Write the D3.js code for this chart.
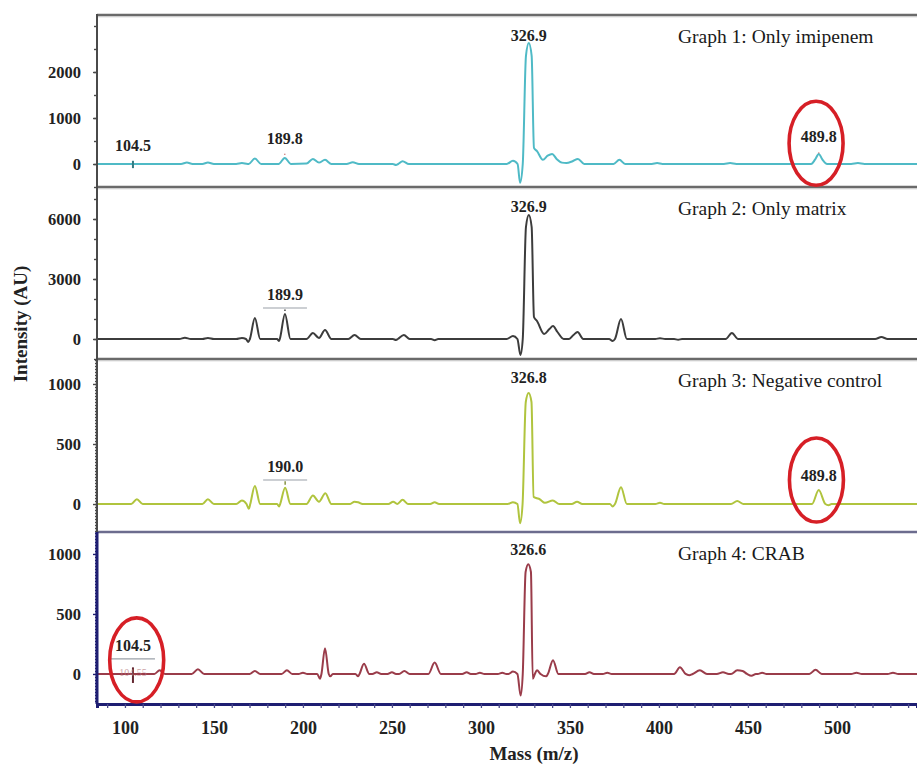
<!DOCTYPE html>
<html>
<head>
<meta charset="utf-8">
<script src="https://cdn.jsdelivr.net/npm/d3@7"></script>
<style>
body { margin: 0; background: #fff; }
svg { display: block; }
</style>
</head>
<body>
<div id="chart"></div>
<script>
var width = 917, height = 764;

// ---- data ----
var massTicks = [100, 150, 200, 250, 300, 350, 400, 450, 500];
var titles = ["Graph 1: Only imipenem", "Graph 2: Only matrix", "Graph 3: Negative control", "Graph 4: CRAB"];
var lineColors = ["#4fbac6", "#3c3c3c", "#b0c43e", "#9a3c4a"];

var yMajor = [[0, 1000, 2000], [0, 3000, 6000], [0, 500, 1000], [0, 500, 1000]];
var yMinorStep = [500, 1000, 25, 25];
var yDomains = [[-500, 3239], [-1000, 7600], [-233, 1208], [-242, 1183]];

// [m/z, intensity]
var imipenem = [[84,0],[131.5,0],[134.8,30],[138,0],[143.5,0],[146.6,30],[150,0],[162.5,0],[165.7,20],[169,0],
  [169.5,0],[173,120],[176.5,0],[186.3,0],[189.8,130],[193.3,0],[202,10],[205.6,110],[209,30],[212.4,90],
  [216,0],[224.5,0],[228,40],[231.5,0],[250.5,0],[252.3,-20],[253.5,0],[256,60],[259.5,0],[314.5,0],[318,70],
  [320.6,0],[322,-410],[323.5,0],[325.3,2350],[326.9,2630],[328.5,2350],[329.8,350],[331.5,280],[334.8,90],
  [337.5,180],[340,220],[342.5,110],[345.5,30],[348,20],[351.5,60],[354.5,110],[358,0],[374.5,0],[377.8,90],
  [381,0],[396,0],[399,20],[402,0],[436.5,0],[440,20],[443.5,0],[485.5,0],[487.8,100],[489.8,220],[491.8,100],
  [494.5,0],[508,0],[511.8,20],[515.5,0],[546,0]];

var matrix = [[84,0],[130.5,0],[133.7,60],[137,0],[143.5,0],[146.6,50],[150,0],[162.5,0],[165.7,50],[168,0],
  [169.3,-150],[170.2,0],[173,1050],[176,0],[185.5,0],[186.5,-100],[187,0],[189.9,1250],[193,0],[202,0],
  [205.6,300],[209,50],[212.4,450],[216,0],[225.5,0],[229,200],[232.5,0],[250.5,0],[252.3,-50],[253.3,0],
  [256.7,200],[260,0],[272,0],[274,-60],[276,0],[314.5,0],[318,150],[320.5,0],[322.2,-800],[323.5,0],
  [325.3,5600],[326.9,6200],[328.5,5600],[329.8,1100],[331.5,900],[335.5,250],[338.5,500],[340.5,650],[343,350],
  [346.5,0],[349.5,0],[352,200],[354.3,350],[357.5,0],[372,0],[374,-100],[375.3,0],[378.7,1000],[382,0],
  [398,0],[400.6,40],[403.5,0],[408.5,0],[410.8,-40],[413,0],[437.5,0],[441,300],[444.5,0],[521.5,0],[525,100],
  [528.5,0],[546,0]];

var negative = [[84,0],[103.5,0],[106.7,40],[110,0],[143.5,0],[146.6,40],[150,0],[162.5,0],[165.7,30],[168.3,0],
  [169.6,-40],[170.4,0],[173,150],[176,0],[185.5,0],[186.6,-20],[187.2,0],[190,135],[193,0],[202,0],
  [205.6,70],[209,20],[212.6,90],[216,0],[226.5,0],[229,20],[231,15],[233.5,0],[248,0],[250.7,20],[253,0],
  [256,35],[259,0],[271.5,0],[274,15],[276.5,0],[315,0],[318,15],[320.5,0],[322,-160],[323.4,0],[325.2,850],
  [326.8,925],[328.4,850],[329.6,60],[331,50],[333,40],[336,10],[340.4,30],[344,0],[351,0],[354,20],[357,0],
  [372.5,0],[374,-20],[375.3,0],[378.7,140],[382,0],[398,0],[400.6,10],[403,0],[440.5,0],[444,25],[447.5,0],
  [486,0],[489.8,117],[493.5,0],[495.3,-10],[497,0],[546,0]];

var crab = [[84,0],[116.5,0],[119.5,30],[122.5,0],[137.5,0],[141,40],[144.5,0],[170,0],[173,25],[176,0],
  [188,0],[191,30],[194,0],[197.5,0],[200,10],[202.5,0],[208,0],[209.6,-40],[210.4,0],[212.4,215],[214.5,0],
  [215.4,-20],[216.8,0],[229.5,0],[231,-20],[231.8,0],[234.3,85],[237.3,0],[239,0],[241.5,15],[244,0],
  [247.5,0],[250,15],[252.3,0],[254,0],[257,25],[260,0],[270.5,0],[274,95],[277.5,0],[289.5,0],[292,15],[294.3,0],
  [297,0],[299.4,10],[302,0],[309.5,0],[312,10],[314.3,0],[315.5,0],[318,20],[320.5,0],[322.3,-180],[323.5,0],
  [325.1,850],[326.6,915],[328.1,850],[329.1,-40],[330.3,0],[331.5,30],[333.5,0],[336.6,-20],[337.6,0],[340.5,115],
  [343.5,0],[358.5,0],[361,15],[363.5,0],[368.5,0],[371,10],[373.5,0],[408.5,0],[411.8,55],[415,0],[417,-10],
  [419,0],[423,30],[427,0],[432.5,0],[436,15],[439.3,0],[440.5,0],[444,30],[447,25],[449.5,0],[452,-15],
  [454.5,0],[455.5,0],[458,10],[460.5,0],[484.5,0],[488,35],[491.5,0],[508,0],[511,10],[514,0],[528.5,0],
  [531.5,10],[534.5,0],[546,0]];

var spectra = [imipenem, matrix, negative, crab];

// peak labels: m/z, text, level (intensity) at which the label sits, underline?
var peakLabels = [
  [{mz:104.5, text:"104.5", at:152}, {mz:189.8, text:"189.8", at:304}, {mz:326.9, text:"326.9", at:2550}, {mz:489.8, text:"489.8", at:348}],
  [{mz:326.9, text:"326.9", at:6050}, {mz:189.9, text:"189.9", at:1650, line:true}],
  [{mz:326.8, text:"326.8", at:958}, {mz:190.0, text:"190.0", at:217, line:true}, {mz:489.8, text:"489.8", at:142}],
  [{mz:326.6, text:"326.6", at:942}, {mz:104.5, text:"104.5", at:142, line:true}]
];
// small peak markers [panel, m/z, from, to]
var markers = [[0, 104.5, -90, 70], [0, 189.8, 200, 225], [0, 489.8, 235, 250], [1, 189.9, 1400, 1480],
  [2, 190.0, 160, 190], [3, 104.5, -75, 55]];
// red circles [panel, m/z, intensity]
var circled = [[0, 488.3, 450], [2, 488.5, 200], [3, 106.6, 117]];

// ---- layout ----
var panelTop = [15, 187, 359, 532];
var panelBottom = [187, 359, 532, 703];
var left = 97;
var font = "'Liberation Serif', 'Times New Roman', serif";

var svg = d3.select("#chart").append("svg")
  .attr("width", width)
  .attr("height", height);

var x = d3.scaleLinear().domain([84.3, 545]).range([left, width]);

spectra.forEach(function(data, p) {
  var y = d3.scaleLinear().domain(yDomains[p]).range([panelBottom[p], panelTop[p]]);
  var g = svg.append("g").attr("class", "panel" + p);

  g.append("clipPath").attr("id", "clip" + p)
    .append("rect")
    .attr("x", left).attr("y", panelTop[p])
    .attr("width", width - left).attr("height", panelBottom[p] - panelTop[p]);

  // y axis ticks (minor)
  var minor = d3.range(Math.ceil(yDomains[p][0] / yMinorStep[p]) * yMinorStep[p], yDomains[p][1], yMinorStep[p]);
  var axisCol = p == 3 ? "#1e1e72" : "#4a4a4a";
  g.append("g")
    .attr("transform", "translate(" + left + ",0)")
    .call(d3.axisLeft(y).tickValues(minor).tickSize(p >= 2 ? 2 : 3).tickFormat(""))
    .call(function(a) {
      a.select(".domain").remove();
      a.selectAll("line").attr("stroke", axisCol).attr("stroke-width", p >= 2 ? 1.5 : 1.4);
    });
  // y major labels
  g.append("g")
    .attr("transform", "translate(" + left + ",0)")
    .call(d3.axisLeft(y).tickValues(yMajor[p]).tickSize(4).tickPadding(12).tickFormat(d3.format("d")))
    .call(function(a) {
      a.select(".domain").remove();
      a.selectAll("line").attr("stroke", axisCol).attr("stroke-width", 1.4);
      a.selectAll("text")
        .attr("font-family", font)
        .attr("font-weight", "bold")
        .attr("font-size", 16.5)
        .attr("fill", "#222");
    });

  // spectrum line
  var line = d3.line()
    .x(function(d) { return x(d[0]); })
    .y(function(d) { return y(d[1]); })
    .curve(d3.curveMonotoneX);
  g.append("path")
    .datum(data)
    .attr("clip-path", "url(#clip" + p + ")")
    .attr("d", line)
    .attr("fill", "none")
    .attr("stroke", lineColors[p])
    .attr("stroke-width", 2)
    .attr("stroke-linejoin", "round");

  // markers
  markers.filter(function(m) { return m[0] == p; }).forEach(function(m) {
    g.append("line")
      .attr("x1", x(m[1])).attr("x2", x(m[1]))
      .attr("y1", y(m[2])).attr("y2", y(m[3]))
      .attr("stroke", p == 0 && m[1] > 150 ? "#c0504d" : d3.color(lineColors[p]).darker(1.2))
      .attr("stroke-width", m[1] < 110 ? 2 : 1.3);
  });

  // peak labels
  peakLabels[p].forEach(function(d) {
    var ly = y(d.at) - 6;
    g.append("text")
      .attr("x", x(d.mz))
      .attr("y", ly)
      .attr("text-anchor", "middle")
      .attr("font-family", font)
      .attr("font-weight", "bold")
      .attr("font-size", 16)
      .attr("fill", "#222")
      .text(d.text);
    if (d.line) {
      g.append("line")
        .attr("x1", x(d.mz) - 22).attr("x2", x(d.mz) + 22)
        .attr("y1", ly + 8).attr("y2", ly + 8)
        .attr("stroke", "#9aa0a8").attr("stroke-width", 1.2);
    }
  });

  // title
  g.append("text")
    .attr("x", 678)
    .attr("y", panelTop[p] + 28)
    .attr("font-family", font)
    .attr("font-size", 19.5)
    .attr("fill", "#1a1a1a")
    .text(titles[p]);
});

// blurred secondary label under the circled peak in graph 4
var y4 = d3.scaleLinear().domain(yDomains[3]).range([panelBottom[3], panelTop[3]]);
svg.append("text")
  .attr("x", x(104.5)).attr("y", y4(-20))
  .attr("text-anchor", "middle")
  .attr("font-family", font)
  .attr("font-size", 10)
  .attr("fill", "#b77a80")
  .attr("opacity", 0.7)
  .text("104.55");

// panel frames
[0, 1, 2].forEach(function(p) {
  svg.append("line")
    .attr("x1", left).attr("x2", width)
    .attr("y1", panelTop[p]).attr("y2", panelTop[p])
    .attr("stroke", "#6a6a6a").attr("stroke-width", 2.6);
  svg.append("line")
    .attr("x1", left).attr("x2", width)
    .attr("y1", panelTop[p] + 1.8).attr("y2", panelTop[p] + 1.8)
    .attr("stroke", "#c8c8c8").attr("stroke-width", 1);
});
svg.append("line")
  .attr("x1", left).attr("x2", width)
  .attr("y1", panelTop[3]).attr("y2", panelTop[3])
  .attr("stroke", "#6c6c8e").attr("stroke-width", 2.6);
svg.append("line")
  .attr("x1", left).attr("x2", left)
  .attr("y1", panelTop[0] - 1).attr("y2", panelTop[3])
  .attr("stroke", "#4a4a4a").attr("stroke-width", 2);
svg.append("line")
  .attr("x1", left).attr("x2", left)
  .attr("y1", panelTop[3]).attr("y2", panelBottom[3] + 1)
  .attr("stroke", "#1e1e72").attr("stroke-width", 3);

// x axis
var xMinor = d3.range(90, 546, 10);
svg.append("g")
  .attr("transform", "translate(0," + (panelBottom[3] + 1) + ")")
  .call(d3.axisBottom(x).tickValues(xMinor).tickSize(4).tickFormat(""))
  .call(function(a) {
    a.select(".domain").attr("stroke", "#1e1e72").attr("stroke-width", 3);
    a.selectAll("line").attr("stroke", "#4a4a8a").attr("stroke-width", 1.3);
  });
svg.append("g")
  .attr("transform", "translate(0," + (panelBottom[3] + 1) + ")")
  .call(d3.axisBottom(x).tickValues(massTicks).tickSize(0).tickPadding(17).tickFormat(d3.format("d")))
  .call(function(a) {
    a.select(".domain").remove();
    a.selectAll("text")
      .attr("font-family", font)
      .attr("font-weight", "bold")
      .attr("font-size", 18)
      .attr("fill", "#222");
  });

// circles around peaks
circled.forEach(function(c) {
  var yc = d3.scaleLinear().domain(yDomains[c[0]]).range([panelBottom[c[0]], panelTop[c[0]]]);
  svg.append("ellipse")
    .attr("cx", x(c[1]))
    .attr("cy", yc(c[2]))
    .attr("rx", 27)
    .attr("ry", 42)
    .attr("fill", "none")
    .attr("stroke", "#d61f26")
    .attr("stroke-width", 3.6);
});

// axis titles
svg.append("text")
  .attr("transform", "translate(27,324) rotate(-90)")
  .attr("text-anchor", "middle")
  .attr("font-family", font)
  .attr("font-weight", "bold")
  .attr("font-size", 19)
  .attr("fill", "#222")
  .text("Intensity (AU)");
svg.append("text")
  .attr("x", 534)
  .attr("y", 760)
  .attr("text-anchor", "middle")
  .attr("font-family", font)
  .attr("font-weight", "bold")
  .attr("font-size", 19)
  .attr("fill", "#222")
  .text("Mass (m/z)");
</script>
</body>
</html>
